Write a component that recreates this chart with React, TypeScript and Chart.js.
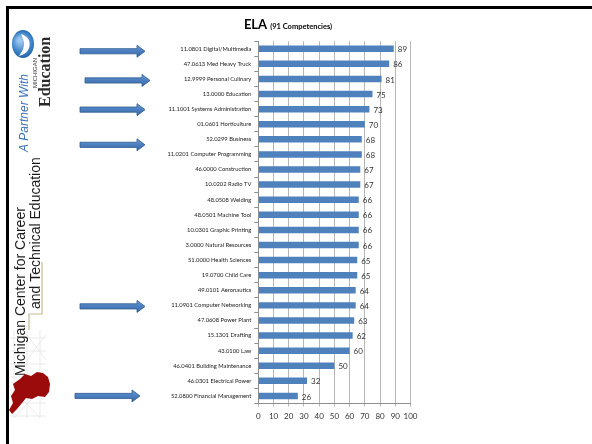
import React, { useEffect, useRef } from 'react';
import { Chart, registerables } from 'chart.js';

Chart.register(...registerables);

// Programs ranked by the number of ELA competencies they cover
const programs = [
  '11.0801 Digital/Multimedia',
  '47.0613 Med Heavy Truck',
  '12.9999 Personal Culinary',
  '13.0000 Education',
  '11.1001 Systems Administration',
  '01.0601 Horticulture',
  '52.0299 Business',
  '11.0201 Computer Programming',
  '46.0000 Construction',
  '10.0202 Radio TV',
  '48.0508 Welding',
  '48.0501 Machine Tool',
  '10.0301 Graphic Printing',
  '3.0000 Natural Resources',
  '51.0000 Health Sciences',
  '19.0700 Child Care',
  '49.0101 Aeronautics',
  '11.0901 Computer Networking',
  '47.0608 Power Plant',
  '15.1301 Drafting',
  '43.0100 Law',
  '46.0401 Building Maintenance',
  '46.0301 Electrical Power',
  '52.0800 Financial Management',
];

const competencies = [89, 86, 81, 75, 73, 70, 68, 68, 67, 67, 66, 66, 66, 66, 65, 65, 64, 64, 63, 62, 60, 50, 32, 26];

const axisTicks = [0, 10, 20, 30, 40, 50, 60, 70, 80, 90, 100];

// Programs pointed out with an arrow
const highlighted = [
  '11.0801 Digital/Multimedia',
  '12.9999 Personal Culinary',
  '11.1001 Systems Administration',
  '52.0299 Business',
  '11.0901 Computer Networking',
  '52.0800 Financial Management',
];

const titleMain = 'ELA';
const titleSub = '(91 Competencies)';

const BAR_BLUE = '#4F81BD';

function verticalText(
  ctx: CanvasRenderingContext2D,
  text: string,
  x: number,
  y: number,
  font: string,
  color: string,
  maxWidth?: number
) {
  ctx.save();
  ctx.translate(x, y);
  ctx.rotate(-Math.PI / 2);
  ctx.font = font;
  ctx.fillStyle = color;
  ctx.textBaseline = 'alphabetic';
  ctx.textAlign = 'left';
  if (maxWidth) ctx.fillText(text, 0, 0, maxWidth);
  else ctx.fillText(text, 0, 0);
  ctx.restore();
}

function drawArrow(ctx: CanvasRenderingContext2D, x0: number, x1: number, y: number) {
  const shaft = 2.6;
  const head = 6;
  const headLen = 8;
  ctx.save();
  ctx.beginPath();
  ctx.moveTo(x0, y - shaft);
  ctx.lineTo(x1 - headLen, y - shaft);
  ctx.lineTo(x1 - headLen, y - head);
  ctx.lineTo(x1, y);
  ctx.lineTo(x1 - headLen, y + head);
  ctx.lineTo(x1 - headLen, y + shaft);
  ctx.lineTo(x0, y + shaft);
  ctx.closePath();
  const g = ctx.createLinearGradient(0, y - head, 0, y + head);
  g.addColorStop(0, '#6b9bd6');
  g.addColorStop(0.5, '#4a7ebf');
  g.addColorStop(1, '#3d6aa6');
  ctx.fillStyle = g;
  ctx.fill();
  ctx.strokeStyle = '#2f5a8e';
  ctx.lineWidth = 0.8;
  ctx.stroke();
  ctx.restore();
}

function drawSideLogo(ctx: CanvasRenderingContext2D) {
  // Faint grid behind the state outline
  ctx.save();
  ctx.strokeStyle = '#e2e2e2';
  ctx.lineWidth = 0.7;
  for (const gx of [14, 27, 40]) {
    ctx.beginPath();
    ctx.moveTo(gx, 330);
    ctx.lineTo(gx, 418);
    ctx.stroke();
  }
  for (let gy = 338; gy <= 418; gy += 13) {
    ctx.beginPath();
    ctx.moveTo(10, gy);
    ctx.lineTo(46, gy);
    ctx.stroke();
  }
  ctx.beginPath();
  ctx.moveTo(27, 335);
  ctx.lineTo(46, 360);
  ctx.moveTo(46, 335);
  ctx.lineTo(27, 360);
  ctx.moveTo(14, 390);
  ctx.lineTo(40, 418);
  ctx.moveTo(40, 390);
  ctx.lineTo(14, 418);
  ctx.stroke();
  ctx.restore();

  // Tan bracket beside the second line
  ctx.save();
  ctx.strokeStyle = '#cbb892';
  ctx.lineWidth = 1.2;
  ctx.beginPath();
  ctx.moveTo(42, 262);
  ctx.lineTo(42, 314);
  ctx.lineTo(29, 314);
  ctx.lineTo(29, 330);
  ctx.stroke();
  ctx.restore();

  // Red state outline
  ctx.save();
  ctx.fillStyle = '#9b0b0b';
  ctx.beginPath();
  const pts = [
    [20, 379], [25, 374], [31, 376], [37, 372], [43, 373], [48, 377], [50, 384],
    [49, 392], [45, 397], [38, 396], [32, 399], [26, 398], [22, 403], [17, 409],
    [12, 414], [9, 410], [13, 403], [11, 396], [15, 390], [13, 384],
  ];
  pts.forEach(([px, py], i) => (i === 0 ? ctx.moveTo(px, py) : ctx.lineTo(px, py)));
  ctx.closePath();
  ctx.fill();
  ctx.restore();

  // Organisation name, reading bottom to top
  verticalText(ctx, 'Michigan Center for Career', 24.5, 376, '14px "Liberation Sans", Arial, sans-serif', '#1a1a1a', 173);
  verticalText(ctx, 'and Technical Education', 39.5, 309, '14px "Liberation Sans", Arial, sans-serif', '#1a1a1a', 154);

  // Partner badge at the top
  verticalText(ctx, 'A Partner With', 28, 152, 'italic 12px "Liberation Sans", Arial, sans-serif', '#3f72b8', 84);

  ctx.save();
  const cx = 23;
  const cy = 44;
  const grad = ctx.createRadialGradient(cx - 3, cy - 4, 2, cx, cy, 15);
  grad.addColorStop(0, '#9cc6ee');
  grad.addColorStop(0.6, '#3f84c8');
  grad.addColorStop(1, '#1f5d9e');
  ctx.fillStyle = grad;
  ctx.beginPath();
  ctx.ellipse(cx, cy, 11, 14, 0, 0, Math.PI * 2);
  ctx.fill();
  ctx.fillStyle = '#ffffff';
  ctx.beginPath();
  ctx.moveTo(cx - 2, cy - 10);
  ctx.quadraticCurveTo(cx + 9, cy - 6, cx + 6, cy + 4);
  ctx.quadraticCurveTo(cx + 4, cy + 10, cx - 4, cy + 12);
  ctx.quadraticCurveTo(cx + 2, cy + 4, cx + 1, cy - 2);
  ctx.quadraticCurveTo(cx, cy - 6, cx - 2, cy - 10);
  ctx.fill();
  ctx.restore();

  verticalText(ctx, 'MICHIGAN', 36.5, 88, '6px "Liberation Sans", Arial, sans-serif', '#333333', 33);
  verticalText(ctx, 'Education', 50, 107, 'bold 16px "Liberation Serif", "Times New Roman", serif', '#2b2b2b', 75);
}

const pagePlugin = {
  id: 'pageDecor',
  beforeDraw(chart: any) {
    const ctx: CanvasRenderingContext2D = chart.ctx;
    ctx.save();
    ctx.fillStyle = '#ffffff';
    ctx.fillRect(0, 0, chart.width, chart.height);
    ctx.restore();
  },
  afterDraw(chart: any) {
    const ctx: CanvasRenderingContext2D = chart.ctx;
    const yScale = chart.scales.y;

    // Frame
    ctx.save();
    ctx.fillStyle = '#000000';
    ctx.fillRect(6, 6, chart.width - 6, 3);
    ctx.fillRect(6, 6, 3, chart.height - 6);
    ctx.restore();

    drawSideLogo(ctx);

    // Title with a smaller subtitle on the same line
    ctx.save();
    const mainFont = 'bold 13px Lato, "Open Sans", sans-serif';
    const subFont = 'bold 7.5px Lato, "Open Sans", sans-serif';
    ctx.font = mainFont;
    const wMain = ctx.measureText(titleMain).width;
    ctx.font = subFont;
    const wSub = ctx.measureText(titleSub).width;
    const gap = 3;
    const total = wMain + gap + wSub;
    const left = 288 - total / 2;
    ctx.fillStyle = '#000000';
    ctx.textBaseline = 'alphabetic';
    ctx.textAlign = 'left';
    ctx.font = mainFont;
    ctx.fillText(titleMain, left, 28.5);
    ctx.font = subFont;
    ctx.fillText(titleSub, left + wMain + gap, 28.5);
    ctx.restore();

    // Arrows pointing at selected programs
    const arrowSpans: Record<number, [number, number, number]> = {
      0: [80, 145, 2.5],
      2: [85, 150, 1.5],
      4: [80, 145, 0.5],
      6: [80, 145, 5.5],
      17: [80, 145, 1],
      23: [75, 140, 0],
    };
    highlighted.forEach((name) => {
      const idx = programs.indexOf(name);
      if (idx < 0) return;
      const span = arrowSpans[idx] || [80, 145, 0];
      const y = yScale.getPixelForValue(idx) + span[2];
      drawArrow(ctx, span[0], span[1], y);
    });
  },
};

const valueLabelPlugin = {
  id: 'valueLabels',
  afterDatasetsDraw(chart: any) {
    const ctx: CanvasRenderingContext2D = chart.ctx;
    const meta = chart.getDatasetMeta(0);
    const data = chart.data.datasets[0].data as number[];
    ctx.save();
    ctx.font = '8px Lato, "Open Sans", sans-serif';
    ctx.fillStyle = '#333333';
    ctx.textAlign = 'left';
    ctx.textBaseline = 'middle';
    meta.data.forEach((bar: any, i: number) => {
      ctx.fillText(String(data[i]), bar.x + 4, bar.y + 1);
    });
    ctx.restore();
  },
};

export default function App() {
  const canvasRef = useRef<HTMLCanvasElement | null>(null);

  useEffect(() => {
    if (!canvasRef.current) return;
    Chart.defaults.font.family = 'Lato, "Open Sans", sans-serif';
    const chart = new Chart(canvasRef.current, {
      type: 'bar',
      data: {
        labels: programs,
        datasets: [
          {
            data: competencies,
            backgroundColor: BAR_BLUE,
            borderWidth: 0,
            barPercentage: 0.43,
            categoryPercentage: 1,
          },
        ],
      },
      options: {
        indexAxis: 'y',
        responsive: false,
        animation: false,
        devicePixelRatio: 1,
        layout: { padding: { left: 0, right: 181.5, top: 41.2, bottom: 0 } },
        plugins: {
          legend: { display: false },
          tooltip: { enabled: false },
          title: { display: false },
        },
        scales: {
          x: {
            min: 0,
            max: 100,
            afterBuildTicks: (s: any) => {
              s.ticks = axisTicks.map((v) => ({ value: v }));
            },
            ticks: { font: { size: 8 }, color: '#333333', padding: 5, maxRotation: 0, autoSkip: false },
            grid: { color: '#b7b7b7', tickLength: 3, lineWidth: 1 },
            border: { color: '#8e8e8e' },
            afterFit: (s: any) => {
              s.height = 40.5;
            },
          },
          y: {
            ticks: { font: { size: 5.8 }, color: '#222222', padding: 3, autoSkip: false },
            grid: { drawOnChartArea: false, tickLength: 4, color: '#8e8e8e' },
            border: { color: '#8e8e8e' },
            afterFit: (s: any) => {
              s.width = 258.3;
            },
          },
        },
      },
      plugins: [pagePlugin, valueLabelPlugin],
    });
    return () => chart.destroy();
  }, []);

  return (
    <div style={{ position: 'absolute', left: 0, top: 0, width: 592, height: 444, background: '#ffffff' }}>
      <canvas ref={canvasRef} width={592} height={444} style={{ display: 'block', width: 592, height: 444 }} />
    </div>
  );
}
